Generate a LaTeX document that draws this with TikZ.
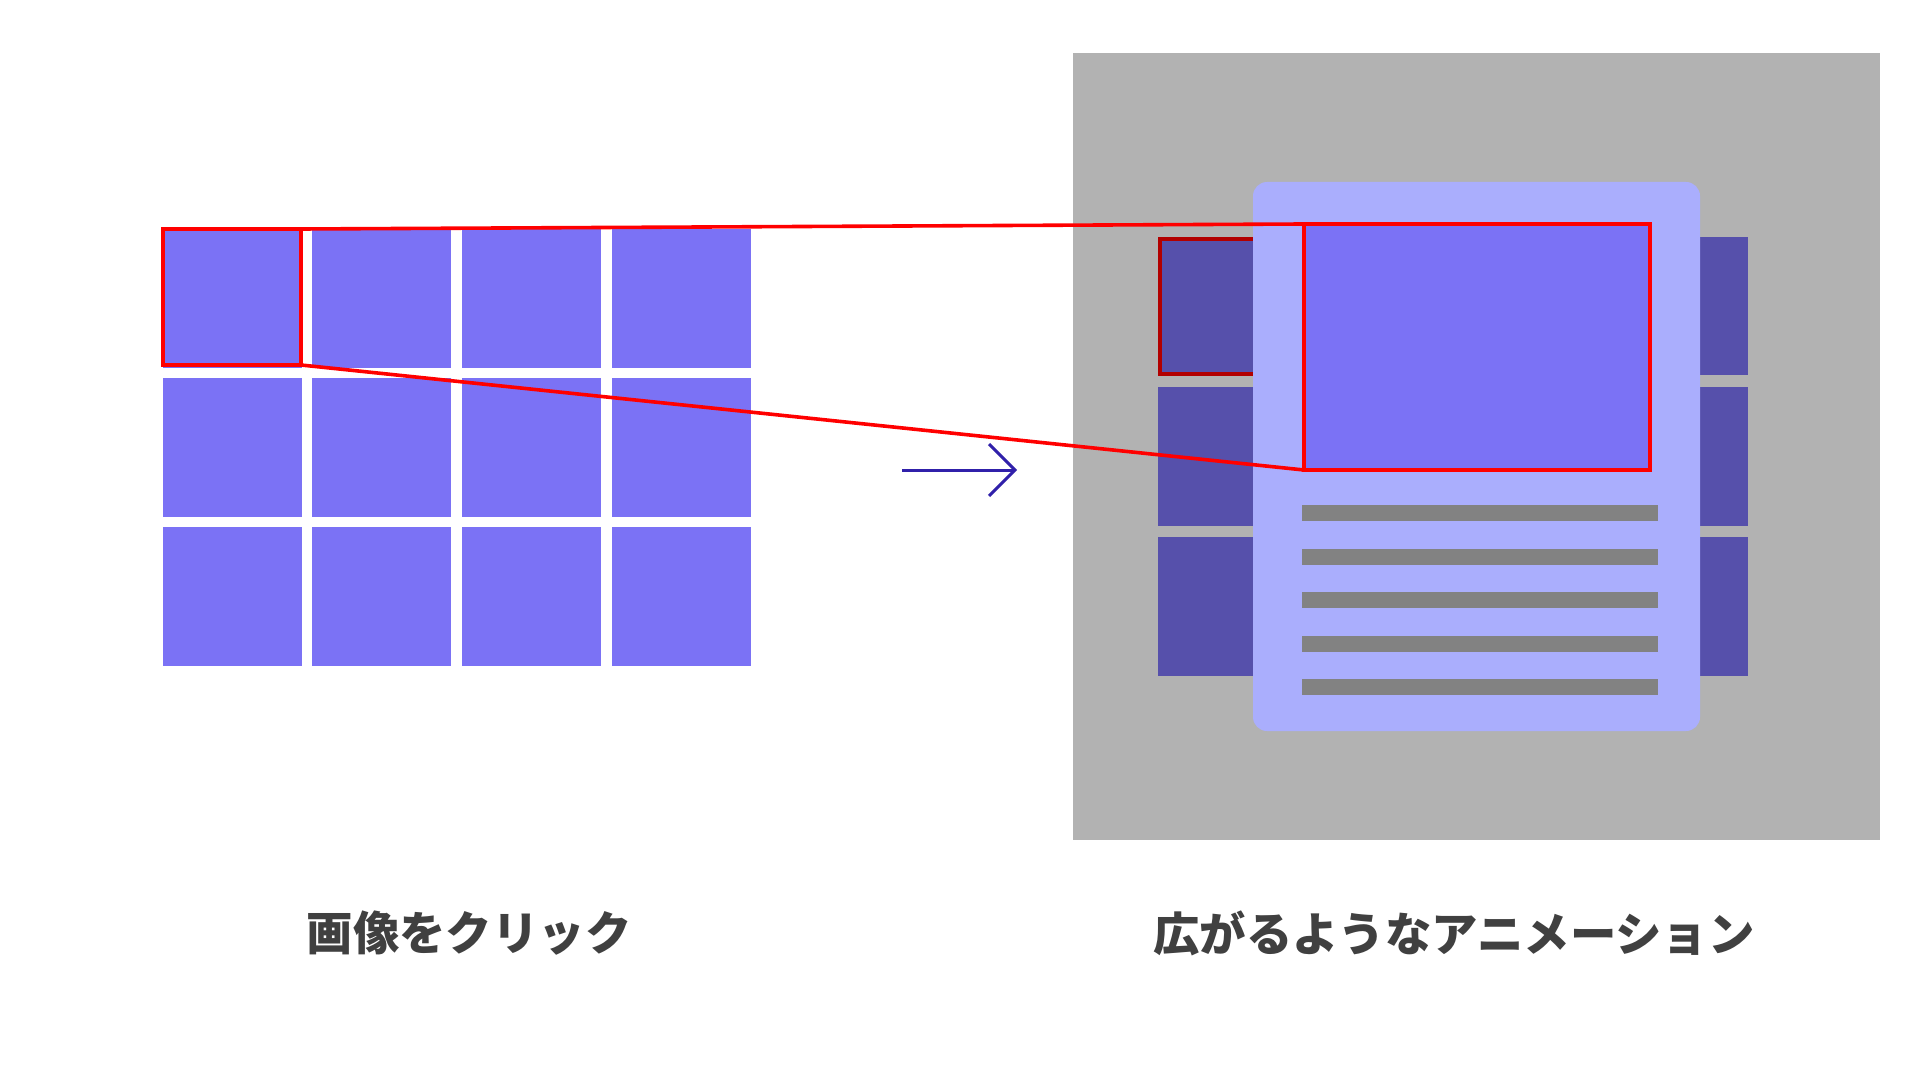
\documentclass[tikz,border=0pt]{standalone}
\usepackage{fontspec}
\newfontfamily\cjk{Noto Sans CJK JP}
\definecolor{tile}{RGB}{123,114,245}
\definecolor{darktile}{RGB}{86,80,171}
\definecolor{cardc}{RGB}{170,174,253}
\definecolor{bgc}{RGB}{178,178,178}
\definecolor{linec}{RGB}{130,130,130}
\definecolor{arrowc}{RGB}{48,32,170}
\definecolor{darkred}{RGB}{178,0,0}
\definecolor{txt}{RGB}{64,64,64}
\tikzset{
  cell/.style={fill=tile, draw=none},
  dcell/.style={fill=darktile, draw=none},
  redframe/.style={draw=red, line width=1.8pt},
  zoomline/.style={draw=red, line width=1.8pt},
  textbar/.style={fill=linec, draw=none},
  caption/.style={font=\cjk\bfseries\fontsize{23.2pt}{28pt}\selectfont, text=txt, inner sep=0pt},
}
\begin{document}
\begin{tikzpicture}[x=0.5pt, y=-0.5pt]
\useasboundingbox (0,0) rectangle (1920,1080);
\fill[white] (0,0) rectangle (1920,1080);
% left grid
\foreach \cx in {163,312,462,612} {
  \foreach \cy in {229,378,527} {
    \fill[tile] (\cx,\cy) rectangle ++(139,139);
  }
}
\coordinate (sTL) at (163,229);
\coordinate (sBR) at (301,365);
\draw[redframe] (sTL) rectangle (sBR);
% right panel
\fill[bgc] (1073,53) rectangle (1880,840);
\foreach \cy/\ch in {237/138, 387/139, 537/139} {
  \fill[darktile] (1158,\cy) rectangle (1270,\cy+\ch);
  \fill[darktile] (1690,\cy) rectangle (1748,\cy+\ch);
}
\draw[darkred, line width=1.6pt] (1160,239) rectangle (1262,374);
\fill[cardc, rounded corners=7pt] (1253,182) rectangle (1700,731);
\coordinate (bTL) at (1304,224);
\coordinate (bBR) at (1650,470);
\fill[tile] (bTL) rectangle (bBR);
\draw[redframe] (bTL) rectangle (bBR);
\foreach \ly in {505,549,592,636,679} {
  \fill[linec] (1302,\ly) rectangle (1658,\ly+16);
}
% zoom lines
\draw[zoomline] (sBR |- sTL) -- (bTL);
\draw[zoomline] (sBR) -- (bTL |- bBR);
% arrow
\coordinate (aS) at (902,470);
\coordinate (aE) at (1015,470);
\draw[arrowc, line width=1.5pt] (aS) -- (aE);
\draw[arrowc, line width=1.5pt] (989,444) -- (aE) -- (989,496);
% captions
\node[caption] (c1) at (469,933) {画像をクリック};
\node[caption] (c2) at (1454,933) {広がるようなアニメーション};
\end{tikzpicture}
\end{document}
